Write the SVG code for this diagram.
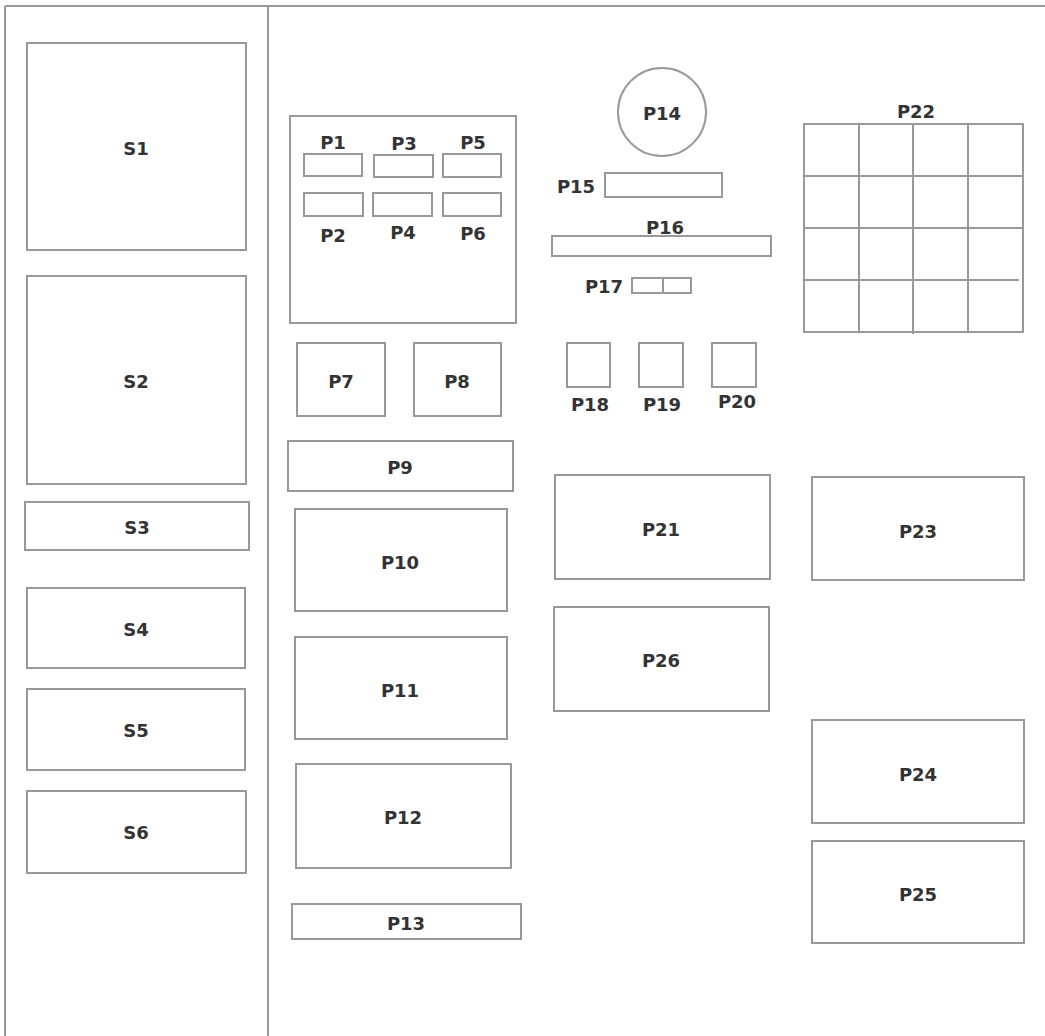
<svg xmlns="http://www.w3.org/2000/svg" width="1045" height="1036" viewBox="0 0 1045 1036">
<style>
rect,circle,line{fill:none;stroke:#999;stroke-width:2}
rect.bg{fill:#fff;stroke:none}
text{font-family:"DejaVu Sans",Verdana,sans-serif;font-weight:bold;font-size:18px;fill:#333;text-anchor:middle;dominant-baseline:central}
</style>
<rect class="bg" x="0" y="0" width="1045" height="1036"/>
<g id="frame">
<line x1="5" y1="6" x2="1045" y2="6"/>
<line x1="5" y1="6" x2="5" y2="1036"/>
<line x1="268" y1="6" x2="268" y2="1036"/>
</g>
<g id="S1"><rect x="27" y="43" width="219" height="207"/><text x="136" y="148">S1</text></g>
<g id="S2"><rect x="27" y="276" width="219" height="208"/><text x="136" y="381">S2</text></g>
<g id="S3"><rect x="25" y="502" width="224" height="48"/><text x="137" y="527">S3</text></g>
<g id="S4"><rect x="27" y="588" width="218" height="80"/><text x="136" y="629">S4</text></g>
<g id="S5"><rect x="27" y="689" width="218" height="81"/><text x="136" y="730">S5</text></g>
<g id="S6"><rect x="27" y="791" width="219" height="82"/><text x="136" y="832">S6</text></g>
<g id="P1-P6-box"><rect x="290" y="116" width="226" height="207"/></g>
<g id="P1"><rect x="304" y="154" width="58" height="22"/><text x="333" y="142">P1</text></g>
<g id="P3"><rect x="374" y="155" width="59" height="22"/><text x="404" y="143">P3</text></g>
<g id="P5"><rect x="443" y="154" width="58" height="23"/><text x="473" y="142">P5</text></g>
<g id="P2"><rect x="304" y="193" width="59" height="23"/><text x="333" y="235">P2</text></g>
<g id="P4"><rect x="373" y="193" width="59" height="23"/><text x="403" y="232">P4</text></g>
<g id="P6"><rect x="443" y="193" width="58" height="23"/><text x="473" y="233">P6</text></g>
<g id="P7"><rect x="297" y="343" width="88" height="73"/><text x="341" y="381">P7</text></g>
<g id="P8"><rect x="414" y="343" width="87" height="73"/><text x="457" y="381">P8</text></g>
<g id="P9"><rect x="288" y="441" width="225" height="50"/><text x="400" y="467">P9</text></g>
<g id="P10"><rect x="295" y="509" width="212" height="102"/><text x="400" y="562">P10</text></g>
<g id="P11"><rect x="295" y="637" width="212" height="102"/><text x="400" y="690">P11</text></g>
<g id="P12"><rect x="296" y="764" width="215" height="104"/><text x="403" y="817">P12</text></g>
<g id="P13"><rect x="292" y="904" width="229" height="35"/><text x="406" y="923">P13</text></g>
<g id="P14"><circle cx="662" cy="112" r="44"/><text x="662" y="113">P14</text></g>
<g id="P15"><rect x="605" y="173" width="117" height="24"/><text x="576" y="186">P15</text></g>
<g id="P16"><rect x="552" y="236" width="219" height="20"/><text x="665" y="227">P16</text></g>
<g id="P17"><rect x="632" y="278" width="59" height="15"/><line x1="663" y1="278" x2="663" y2="293"/><text x="604" y="286">P17</text></g>
<g id="P18"><rect x="567" y="343" width="43" height="44"/><text x="590" y="404">P18</text></g>
<g id="P19"><rect x="639" y="343" width="44" height="44"/><text x="662" y="404">P19</text></g>
<g id="P20"><rect x="712" y="343" width="44" height="44"/><text x="737" y="401">P20</text></g>
<g id="P21"><rect x="555" y="475" width="215" height="104"/><text x="661" y="529">P21</text></g>
<g id="P26"><rect x="554" y="607" width="215" height="104"/><text x="661" y="660">P26</text></g>
<g id="P22">
<rect x="804" y="124" width="219" height="208"/>
<line x1="859" y1="124" x2="859" y2="332"/>
<line x1="913" y1="124" x2="913" y2="334"/>
<line x1="968" y1="124" x2="968" y2="332"/>
<line x1="804" y1="176" x2="1023" y2="176"/>
<line x1="804" y1="228" x2="1023" y2="228"/>
<line x1="804" y1="280" x2="1019" y2="280"/>
<text x="916" y="111">P22</text>
</g>
<g id="P23"><rect x="812" y="477" width="212" height="103"/><text x="918" y="531">P23</text></g>
<g id="P24"><rect x="812" y="720" width="212" height="103"/><text x="918" y="774">P24</text></g>
<g id="P25"><rect x="812" y="841" width="212" height="102"/><text x="918" y="894">P25</text></g>
<g id="connectors"></g>
</svg>
